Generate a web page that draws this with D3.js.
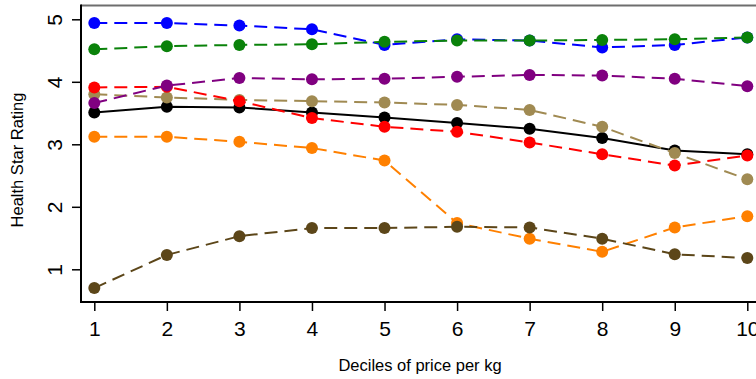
<!DOCTYPE html>
<html>
<head>
<meta charset="utf-8">
<script src="https://cdn.jsdelivr.net/npm/d3@7"></script>
<style>
  body { margin: 0; background: #fff; }
  text { font-family: "Liberation Sans", Arial, Helvetica, sans-serif; fill: #000; }
</style>
</head>
<body>
<div id="chart"></div>
<script>
var svgWidth = 756;
var svgHeight = 379;

// data
var deciles = [1, 2, 3, 4, 5, 6, 7, 8, 9, 10];
var yTicks = [1, 2, 3, 4, 5];

var overall = [3.51, 3.60, 3.59, 3.51, 3.43, 3.34, 3.25, 3.10, 2.90, 2.84];
var blueSeries = [4.94, 4.94, 4.90, 4.84, 4.59, 4.68, 4.66, 4.55, 4.59, 4.71];
var greenSeries = [4.52, 4.57, 4.59, 4.60, 4.64, 4.66, 4.66, 4.67, 4.68, 4.71];
var tanSeries = [3.80, 3.75, 3.71, 3.69, 3.67, 3.63, 3.55, 3.28, 2.86, 2.44];
var redSeries = [3.91, 3.92, 3.69, 3.42, 3.28, 3.20, 3.03, 2.84, 2.66, 2.82];
var purpleSeries = [3.66, 3.94, 4.06, 4.04, 4.05, 4.08, 4.11, 4.10, 4.05, 3.93];
var orangeSeries = [3.12, 3.12, 3.04, 2.94, 2.74, 1.74, 1.49, 1.28, 1.67, 1.85];
var brownSeries = [0.70, 1.23, 1.53, 1.66, 1.66, 1.68, 1.67, 1.49, 1.24, 1.18];

// drawing order matters for overlapping dots
var series = [
  { values: overall, color: "#000000", dashed: false },
  { values: blueSeries, color: "#0000ff", dashed: true },
  { values: greenSeries, color: "#0a820a", dashed: true },
  { values: tanSeries, color: "#a08a52", dashed: true },
  { values: redSeries, color: "#ff0000", dashed: true },
  { values: purpleSeries, color: "#800080", dashed: true },
  { values: orangeSeries, color: "#ff8000", dashed: true },
  { values: brownSeries, color: "#5c4619", dashed: true }
];

var svg = d3.select("#chart")
  .append("svg")
  .attr("width", svgWidth)
  .attr("height", svgHeight);

var plotLeft = 81;
var plotTop = 5.5;
var plotBottom = 302;

var x = d3.scaleLinear().domain([1, 10]).range([94.3, 747.3]);
var y = d3.scaleLinear().domain([1, 5]).range([269.3, 19.3]);

// frame: grey top line, black left and bottom axes
svg.append("line")
  .attr("x1", plotLeft).attr("x2", svgWidth + 10)
  .attr("y1", plotTop).attr("y2", plotTop)
  .attr("stroke", "#6e6e6e").attr("stroke-width", 2);

// axes
var leftAxis = d3.axisLeft(y).tickValues(yTicks).tickSize(9).tickPadding(10).tickFormat(d3.format("d"));
var bottomAxis = d3.axisBottom(x).tickValues(deciles).tickSize(9).tickPadding(8).tickFormat(d3.format("d"));

var yAxis = svg.append("g")
  .attr("transform", `translate(${plotLeft},0)`)
  .call(leftAxis);
yAxis.select(".domain").remove();
yAxis.selectAll(".tick line").attr("stroke", "#000").attr("stroke-width", 1.5);
yAxis.selectAll(".tick text")
  .attr("font-size", 21)
  .attr("x", 0).attr("y", 0).attr("dy", 0)
  .attr("text-anchor", "middle")
  .attr("transform", "translate(-19,0) rotate(-90)");

var xAxis = svg.append("g")
  .attr("transform", `translate(0,${plotBottom})`)
  .call(bottomAxis);
xAxis.select(".domain").remove();
xAxis.selectAll(".tick line").attr("stroke", "#000").attr("stroke-width", 1.5);
xAxis.selectAll(".tick text")
  .attr("font-size", 21)
  .attr("dy", 0)
  .attr("y", 34);

svg.append("line")
  .attr("x1", plotLeft).attr("x2", plotLeft)
  .attr("y1", plotTop - 1).attr("y2", plotBottom + 1)
  .attr("stroke", "#000").attr("stroke-width", 2);

svg.append("line")
  .attr("x1", plotLeft).attr("x2", svgWidth + 10)
  .attr("y1", plotBottom).attr("y2", plotBottom)
  .attr("stroke", "#000").attr("stroke-width", 2);

// axis titles
svg.append("text")
  .attr("transform", "translate(23,160) rotate(-90)")
  .attr("text-anchor", "middle")
  .attr("font-size", 16.5)
  .text("Health Star Rating");

svg.append("text")
  .attr("x", 420)
  .attr("y", 371)
  .attr("text-anchor", "middle")
  .attr("font-size", 16.5)
  .text("Deciles of price per kg");

// lines and dots
var line = d3.line()
  .x((d, i) => x(deciles[i]))
  .y(d => y(d));

series.forEach(function(s) {
  var g = svg.append("g");

  g.append("path")
    .datum(s.values)
    .attr("d", line)
    .attr("fill", "none")
    .attr("stroke", s.color)
    .attr("stroke-width", 2)
    .attr("stroke-dasharray", s.dashed ? "13,7" : null);

  g.selectAll("circle")
    .data(s.values)
    .enter()
    .append("circle")
    .attr("cx", (d, i) => x(deciles[i]))
    .attr("cy", d => y(d))
    .attr("r", 6)
    .attr("fill", s.color);
});
</script>
</body>
</html>
